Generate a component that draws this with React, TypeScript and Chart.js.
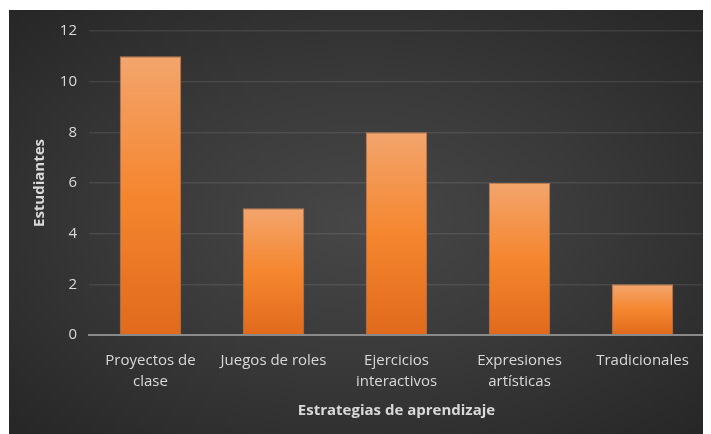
import React, { useEffect, useRef } from "react";
import { Chart, registerables } from "chart.js";

Chart.register(...registerables);

const categories: (string | string[])[] = [
  ["Proyectos de", "clase"],
  "Juegos de roles",
  ["Ejercicios", "interactivos"],
  ["Expresiones", "artísticas"],
  "Tradicionales",
];
const estudiantes = [11, 5, 8, 6, 2];
const yTicks = [0, 2, 4, 6, 8, 10, 12];
const xTitle = "Estrategias de aprendizaje";
const yTitle = "Estudiantes";

const FONT = "'Open Sans', 'Noto Sans', sans-serif";

export default function App() {
  const ref = useRef<HTMLCanvasElement>(null);

  useEffect(() => {
    if (!ref.current) return;
    const chart = new Chart(ref.current, {
      type: "bar",
      data: {
        labels: categories,
        datasets: [
          {
            label: yTitle,
            data: estudiantes,
            backgroundColor: (ctx: any) => {
              const c = ctx.chart;
              const ys = c.scales?.y;
              if (!ys || ctx.raw == null) return "#f47f2c";
              const top = ys.getPixelForValue(ctx.raw);
              const bot = ys.getPixelForValue(0);
              if (!isFinite(top) || !isFinite(bot) || top === bot) return "#f47f2c";
              const g = c.ctx.createLinearGradient(0, top, 0, bot);
              g.addColorStop(0, "#f3a56d");
              g.addColorStop(0.5, "#f5862f");
              g.addColorStop(1, "#e16a1c");
              return g;
            },
            borderColor: "rgba(200,130,85,0.9)",
            borderWidth: 1,
            borderSkipped: "bottom",
            barPercentage: 0.5,
            categoryPercentage: 1,
          },
        ],
      },
      options: {
        animation: false,
        responsive: true,
        maintainAspectRatio: false,
        layout: { padding: { left: 18, right: 7, top: 20, bottom: 10 } },
        plugins: {
          legend: { display: false },
          tooltip: { enabled: false },
        },
        scales: {
          x: {
            afterFit: (s: any) => {
              s.height = 89;
            },
            grid: { display: false, drawTicks: false },
            border: { display: true, color: "#8a8a8a", width: 2 },
            ticks: {
              color: "#d9d9d9",
              font: { family: FONT, size: 15, lineHeight: 1.4 },
              padding: 15,
              maxRotation: 0,
              autoSkip: false,
            },
            title: {
              display: true,
              text: xTitle,
              color: "#d9d9d9",
              font: { family: FONT, size: 15, weight: "bold" },
              padding: { top: 0, bottom: 4 },
            },
          },
          y: {
            min: 0,
            max: 12,
            afterBuildTicks: (s: any) => {
              s.ticks = yTicks.map((v) => ({ value: v }));
            },
            afterFit: (s: any) => {
              s.width = 62;
            },
            grid: { color: "rgba(255,255,255,0.09)", lineWidth: 1.5, drawTicks: false },
            border: { display: false },
            ticks: {
              color: "#d9d9d9",
              font: { family: FONT, size: 15 },
              padding: 12,
            },
            title: {
              display: true,
              text: yTitle,
              color: "#d9d9d9",
              font: { family: FONT, size: 15, weight: "bold" },
              padding: { top: 4, bottom: 4 },
            },
          },
        },
      },
    });
    return () => chart.destroy();
  }, []);

  return (
    <div
      style={{
        marginLeft: 1,
        marginTop: 2,
        width: 702,
        height: 424,
        position: "relative",
        background: "radial-gradient(ellipse at 50% 50%, #474747 0%, #3a3a3a 45%, #262626 100%)",
      }}
    >
      <canvas ref={ref} />
    </div>
  );
}
